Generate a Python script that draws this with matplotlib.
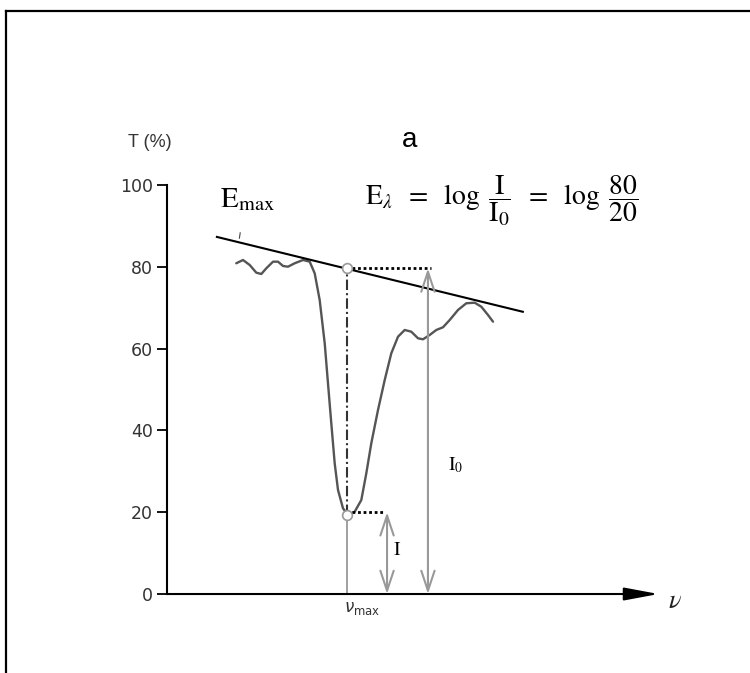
#!/usr/bin/env python3

import matplotlib
matplotlib.use('Agg')
import matplotlib.pyplot as plt
from matplotlib.lines import Line2D

# transmission spectrum (x in arbitrary wavenumber units)
spec_x = [16.94, 18.58, 20.22, 21.83, 23.06, 24.28, 25.92, 27.14, 28.36, 29.58,
          31.22, 33.25, 34.89, 36.11, 37.33, 38.56, 39.36, 40.17, 41.00, 41.81,
          43.03, 44.25, 45.89, 47.51, 48.73, 49.95, 51.59, 53.23, 54.84, 56.48,
          58.12, 59.73, 61.37, 62.59, 64.23, 65.84, 67.48, 69.12, 71.15, 73.18,
          75.23, 76.85, 78.48, 79.71]
spec_y = [80.86, 81.66, 80.44, 78.56, 78.24, 79.63, 81.25, 81.25, 80.20, 80.02,
          80.86, 81.66, 81.25, 78.41, 71.88, 61.30, 51.52, 41.74, 31.96, 25.43,
          20.95, 19.32, 20.12, 22.98, 29.51, 36.85, 44.99, 52.32, 58.85, 62.91,
          64.55, 64.13, 62.52, 62.27, 63.33, 64.55, 65.21, 66.99, 69.44, 71.08,
          71.22, 70.24, 68.22, 66.58]

# tangent baseline
base_x = [12.2, 87.0]
base_y = [87.3, 69.0]

y_ticks = [0, 20, 40, 60, 80, 100]
nu_max = 44.0
t_top = 79.6      # I0 level on the baseline
t_min = 19.4      # I level at the band minimum
arrow_I_x = 53.8
arrow_I0_x = 63.8

fig = plt.figure(figsize=(7.5, 6.73), dpi=100)
ax = fig.add_axes([0.1954, 0.0262, 0.7362, 0.8205])
ax.set_xlim(-5, 130)
ax.set_ylim(-15, 120)

for s in ['top', 'right', 'bottom']:
    ax.spines[s].set_visible(False)
ax.spines['left'].set_position(('data', 0))
ax.spines['left'].set_bounds(0, 100)
ax.spines['left'].set_linewidth(1.5)
ax.set_xticks([])
ax.set_yticks(y_ticks)
ax.tick_params(axis='y', length=7, width=1.3, labelsize=12.5, labelcolor='#333333', pad=3)

# x axis with arrow
ax.annotate('', xy=(120.2, 0), xytext=(0, 0),
            arrowprops=dict(arrowstyle='-|>,head_length=1.5,head_width=0.28',
                            color='black', lw=1.5, shrinkA=0, shrinkB=0,
                            mutation_scale=14))
ax.text(122.4, -1.8, r'$\nu$', fontsize=19, ha='left', va='center', color='#222222',
        math_fontfamily='stix')

# spectrum and baseline
ax.plot(spec_x, spec_y, color='#555555', lw=1.7, solid_capstyle='round',
        solid_joinstyle='round')
ax.plot(base_x, base_y, color='black', lw=1.5)
ax.plot([17.9, 17.7], [88.3, 87.0], color='#444444', lw=0.8)

# construction lines
ax.plot([nu_max, nu_max], [0, t_min], color='#999999', lw=1.3)
ax.plot([nu_max, nu_max], [t_min, t_top], color='#333333', lw=1.5,
        linestyle=(0, (5, 1.5, 1, 1.5)))
ax.plot([nu_max + 1.2, arrow_I0_x + 0.8], [t_top, t_top], color='black', lw=2,
        linestyle=(0, (1, 1)))
ax.plot([nu_max + 1.2, arrow_I_x - 0.5], [20, 20], color='black', lw=2,
        linestyle=(0, (1, 1)))
ax.plot([nu_max, nu_max], [t_top, t_min], linestyle='none', marker='o', ms=7,
        mfc='white', mec='#999999', mew=1.2)

for xa, ytop in [(arrow_I_x, 20), (arrow_I0_x, t_top)]:
    ax.annotate('', xy=(xa, 0), xytext=(xa, ytop),
                arrowprops=dict(arrowstyle='<->,head_length=0.9,head_width=0.3',
                                color='#999999', lw=1.5, shrinkA=0, shrinkB=0,
                                mutation_scale=16))

# labels
ax.text(59.4, 111.0, 'a', fontsize=20, ha='center', va='center', family='Liberation Sans')
ax.text(-4.2, 110.5, 'T (%)', fontsize=13, ha='center', va='center', color='#333333',
        family='Liberation Sans')
ax.text(13.0, 96.6, r'$\mathrm{E}_{\mathrm{max}}$', fontsize=21, ha='left', va='center',
        math_fontfamily='stix')
ax.text(48.5, 96.0,
        r'$\mathrm{E}_{\lambda}\ \;=\ \;\log\;\dfrac{\mathrm{I}}{\mathrm{I}_0}\ \;=\ \;\log\;\dfrac{80}{20}$',
        fontsize=20, ha='left', va='center', math_fontfamily='stix')
ax.text(68.6, 31.5, r'$\mathrm{I}_0$', fontsize=14, ha='left', va='center',
        math_fontfamily='stix')
ax.text(55.3, 10.8, r'$\mathrm{I}$', fontsize=14, ha='left', va='center',
        math_fontfamily='stix')
ax.text(47.7, -3.4, r'$\nu_{\mathrm{max}}$', fontsize=12, ha='center', va='center',
        color='#333333', math_fontfamily='dejavusans')

# frame lines of the original panel (top and left only)
fig.add_artist(Line2D([0.008, 1.0], [0.9837, 0.9837], color='black', lw=1.6))
fig.add_artist(Line2D([0.008, 0.008], [0.0, 0.9837], color='black', lw=1.6))

fig.savefig('out.png', dpi=100)
